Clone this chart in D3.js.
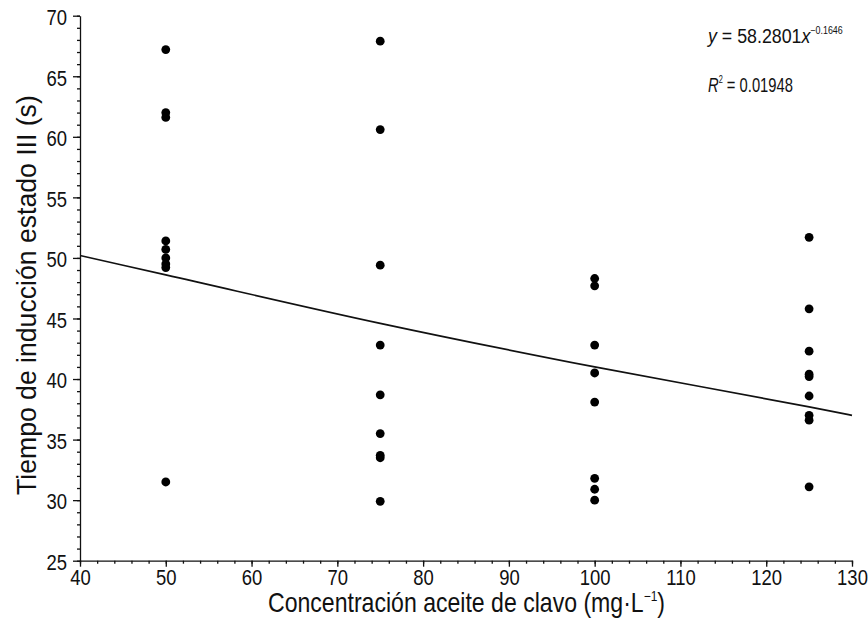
<!DOCTYPE html>
<html>
<head>
<meta charset="utf-8">
<title>Tiempo de inducción vs concentración</title>
<script src="https://d3js.org/d3.v7.min.js"></script>
<style>
  body { margin: 0; background: white; }
  text { font-family: "Liberation Sans", Arial, sans-serif; fill: #111; }
</style>
</head>
<body>
<div id="chart"></div>
<script>
// data
var conc50 = [67.2, 62.0, 61.6, 51.4, 50.7, 50.0, 49.5, 49.2, 31.5];
var conc75 = [67.9, 60.6, 49.4, 42.8, 38.7, 35.5, 33.7, 33.5, 29.9];
var conc100 = [48.3, 47.7, 42.8, 40.5, 38.1, 31.8, 30.9, 30.0];
var conc125 = [51.7, 45.8, 42.3, 40.4, 40.2, 38.6, 37.0, 36.6, 31.1];
var concentrations = [50, 75, 100, 125];

// fitted curve as drawn
var trendX = [40, 50, 75, 100, 125, 130];
var trendY = [50.2, 48.6, 44.6, 41.0, 37.7, 37.0];

var xTicks = [40, 50, 60, 70, 80, 90, 100, 110, 120, 130];
var yTicks = [25, 30, 35, 40, 45, 50, 55, 60, 65, 70];

var width = 868, height = 628;
var plotLeft = 80, plotRight = 852, plotTop = 15.7, plotBottom = 560.7;
var squeeze = 0.84; // narrow the glyphs like a condensed face

var svg = d3.select("#chart").append("svg")
  .attr("width", width)
  .attr("height", height);

var x = d3.scaleLinear().domain([40, 130]).range([plotLeft, plotRight]);
var y = d3.scaleLinear().domain([25, 70]).range([plotBottom, plotTop]);

// minor ticks
svg.append("g")
  .attr("transform", "translate(0," + plotBottom + ")")
  .call(d3.axisBottom(x).tickValues(d3.range(40, 131, 2)).tickSize(3).tickFormat(""))
  .call(function(g) { g.select(".domain").remove(); });
svg.append("g")
  .attr("transform", "translate(" + plotLeft + ",0)")
  .call(d3.axisLeft(y).tickValues(d3.range(25, 71, 1)).tickSize(3).tickFormat(""))
  .call(function(g) { g.select(".domain").remove(); });

// major axes
var xAxis = svg.append("g")
  .attr("transform", "translate(0," + plotBottom + ")")
  .call(d3.axisBottom(x).tickValues(xTicks).tickSize(6).tickSizeOuter(0));
var yAxis = svg.append("g")
  .attr("transform", "translate(" + plotLeft + ",0)")
  .call(d3.axisLeft(y).tickValues(yTicks).tickSize(7).tickSizeOuter(0));

xAxis.attr("font-family", null).attr("font-size", null);
yAxis.attr("font-family", null).attr("font-size", null);
svg.selectAll(".tick text").style("font-size", "22px")
  .attr("transform", "scale(" + squeeze + ",1)");
xAxis.selectAll(".tick text").attr("y", 8).attr("dy", "0.75em");
yAxis.selectAll(".tick text").attr("x", -15.5).attr("dy", "0.4em");
svg.selectAll(".domain, .tick line").attr("stroke", "#111").attr("stroke-width", 1.3);

// trend line
svg.append("path")
  .datum(d3.zip(trendX, trendY))
  .attr("fill", "none")
  .attr("stroke", "#111")
  .attr("stroke-width", 1.7)
  .attr("d", d3.line().x(function(d) { return x(d[0]); }).y(function(d) { return y(d[1]); }).curve(d3.curveMonotoneX));

// points
var groups = [conc50, conc75, conc100, conc125];
var points = [];
groups.forEach(function(vals, i) {
  vals.forEach(function(v) { points.push({c: concentrations[i], t: v}); });
});
svg.selectAll("circle.pt")
  .data(points)
  .enter().append("circle")
  .attr("class", "pt")
  .attr("cx", function(d) { return x(d.c); })
  .attr("cy", function(d) { return y(d.t); })
  .attr("r", 4.4)
  .attr("fill", "#000");

// squeeze a text horizontally so it spans the given width
function fitText(sel, tx, ty, w, rot) {
  var natural = sel.node().getBBox().width;
  sel.attr("transform", "translate(" + tx + "," + ty + ")" + (rot ? " rotate(" + rot + ")" : "") +
    " scale(" + (w / natural) + ",1)");
}

// axis titles
var xTitle = svg.append("text")
  .style("font-size", "27px")
  .html("Concentración aceite de clavo (mg·L<tspan dy='-11' style='font-size:14px'>−1</tspan><tspan dy='11'>)</tspan>");
fitText(xTitle, 268, 612, 397);

var yTitle = svg.append("text")
  .style("font-size", "27px")
  .text("Tiempo de inducción estado III (s)");
fitText(yTitle, 36, 495, 400, -90);

// equation
var eq = svg.append("text")
  .style("font-size", "20px")
  .html("<tspan font-style='italic'>y</tspan> = 58.2801<tspan font-style='italic'>x</tspan><tspan dy='-9' style='font-size:10px'>−0.1646</tspan>");
fitText(eq, 708, 43, 137);

var r2 = svg.append("text")
  .style("font-size", "20px")
  .html("<tspan font-style='italic'>R</tspan><tspan dy='-9' style='font-size:10px'>2</tspan><tspan dy='9'> = 0.01948</tspan>");
fitText(r2, 708, 92, 85);
</script>
</body>
</html>
